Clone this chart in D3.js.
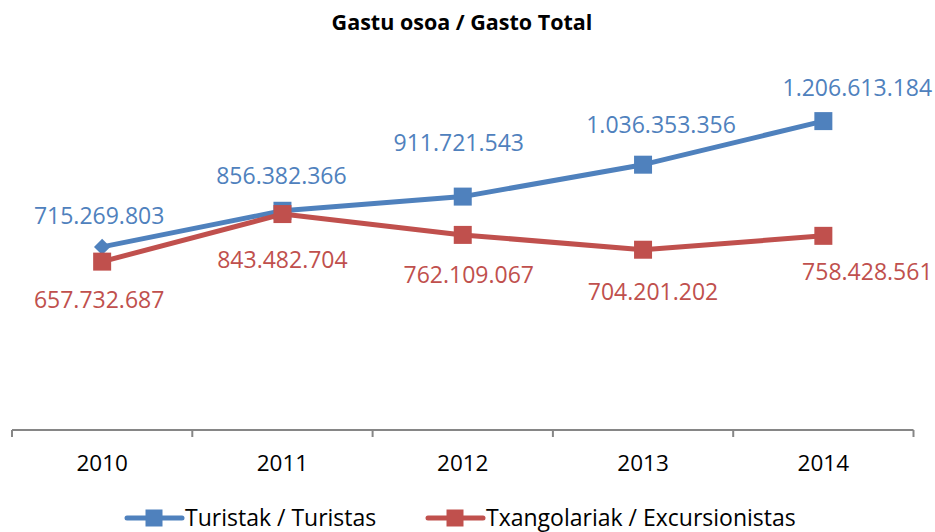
<!DOCTYPE html>
<html>
<head>
<meta charset="utf-8">
<script src="https://cdn.jsdelivr.net/npm/d3@7"></script>
<style>
  html, body { margin: 0; padding: 0; background: #fff; }
  svg { display: block; font-family: "Open Sans", "Noto Sans", sans-serif; }
</style>
</head>
<body>
<svg id="chart" width="935" height="532"></svg>
<script>
// Total spending (euros) per year, by visitor type
const years = ["2010", "2011", "2012", "2013", "2014"];
const turistak = [715269803, 856382366, 911721543, 1036353356, 1206613184];
const txangolariak = [657732687, 843482704, 762109067, 704201202, 758428561];
const seriesNames = ["Turistak / Turistas", "Txangolariak / Excursionistas"];
const titleText = "Gastu osoa / Gasto Total";

// Hand-placed data label offsets (px from each marker centre)
const blueLabelOffsets = [[-3, -31], [-1, -35], [-4, -54], [18, -40], [34, -33]];
const redLabelOffsets = [[-3, 38], [0, 46], [6, 40], [10, 42], [44, 36]];

const colors = ["#4F81BD", "#C0504D"];

const svg = d3.select("#chart");

const x = d3.scaleBand().domain(years).range([12, 913.5]).padding(0);
const y = d3.scaleLinear().domain([0, 1400000000]).range([430, 71.6]);
const cx = d => x(d) + x.bandwidth() / 2;

// Euro-style thousands separators
const fmt = d3.formatLocale({ decimal: ",", thousands: ".", grouping: [3], currency: ["", "€"] }).format(",d");

// Title
svg.append("text")
  .attr("x", 462).attr("y", 30)
  .attr("text-anchor", "middle")
  .attr("font-weight", "bold")
  .attr("font-size", 21.5)
  .attr("fill", "#000")
  .text(titleText);

// Category axis with ticks between categories
const axisG = svg.append("g").attr("transform", "translate(0,430)");
axisG.append("line")
  .attr("x1", 12).attr("x2", 913.5)
  .attr("stroke", "#868686").attr("stroke-width", 2);
const boundaries = years.map(d => x(d)).concat([x(years[years.length - 1]) + x.bandwidth()]);
axisG.selectAll("line.tick").data(boundaries).join("line")
  .attr("class", "tick")
  .attr("x1", d => d).attr("x2", d => d)
  .attr("y1", 0).attr("y2", 7)
  .attr("stroke", "#868686").attr("stroke-width", 2);
axisG.selectAll("text").data(years).join("text")
  .attr("x", d => cx(d)).attr("y", 41)
  .attr("text-anchor", "middle")
  .attr("font-size", 22.5)
  .attr("fill", "#000")
  .text(d => d);

const line = d3.line().x((d, i) => cx(years[i])).y(d => y(d));

function drawSeries(values, color, firstDiamond) {
  const g = svg.append("g");
  g.append("path")
    .attr("d", line(values))
    .attr("fill", "none")
    .attr("stroke", color)
    .attr("stroke-width", 5)
    .attr("stroke-linejoin", "round");
  g.selectAll("path.marker").data(values).join("path")
    .attr("class", "marker")
    .attr("transform", (d, i) => `translate(${cx(years[i])},${y(d)})`)
    .attr("d", (d, i) => (firstDiamond && i === 0)
      ? d3.symbol().type(d3.symbolDiamond2).size(170)()
      : "M-9,-9H9V9H-9Z")
    .attr("fill", color);
}

function drawLabels(values, color, offsets) {
  svg.append("g").selectAll("text").data(values).join("text")
    .attr("x", (d, i) => cx(years[i]) + offsets[i][0])
    .attr("y", (d, i) => y(d) + offsets[i][1])
    .attr("dy", "0.36em")
    .attr("text-anchor", "middle")
    .attr("font-size", 23)
    .attr("fill", color)
    .text(d => fmt(d));
}

drawSeries(turistak, colors[0], true);
drawSeries(txangolariak, colors[1], false);
drawLabels(turistak, colors[0], blueLabelOffsets);
drawLabels(txangolariak, colors[1], redLabelOffsets);

// Legend
const legendItems = [
  { name: seriesNames[0], color: colors[0], x: 127 },
  { name: seriesNames[1], color: colors[1], x: 428 }
];
const lg = svg.append("g").attr("transform", "translate(0,518)");
legendItems.forEach(it => {
  lg.append("line")
    .attr("x1", it.x).attr("x2", it.x + 55)
    .attr("stroke", it.color).attr("stroke-width", 5).attr("stroke-linecap", "round");
  lg.append("path")
    .attr("transform", `translate(${it.x + 27},0)`)
    .attr("d", "M-8.5,-8.5H8.5V8.5H-8.5Z")
    .attr("fill", it.color);
  lg.append("text")
    .attr("x", it.x + 58).attr("y", 0)
    .attr("dy", "0.36em")
    .attr("font-size", 23)
    .attr("fill", "#000")
    .text(it.name);
});
</script>
</body>
</html>
